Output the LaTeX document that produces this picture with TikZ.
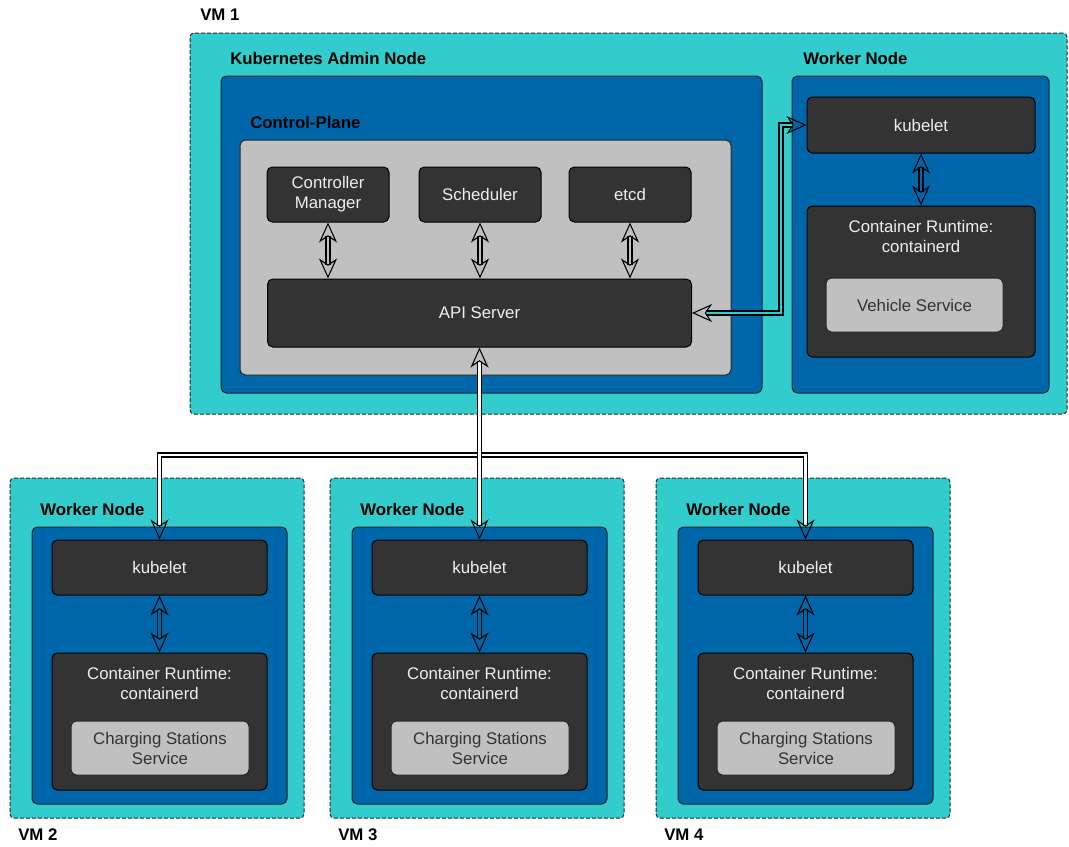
\documentclass[tikz,border=0pt]{standalone}
\usepackage{fontspec}
\setmainfont{Liberation Sans}
\usetikzlibrary{calc,arrows.meta,positioning,decorations.markings}
\definecolor{vmteal}{HTML}{33CCCC}
\definecolor{nodeblue}{HTML}{0066AA}
\definecolor{darkgrey}{HTML}{333333}
\definecolor{lightgrey}{HTML}{C0C0C0}
\definecolor{lighttext}{HTML}{EEEEEE}
\newcommand{\dfont}{\fontsize{12.6}{15}\selectfont}

\begin{document}
\begin{tikzpicture}[x=0.75pt,y=-0.75pt,font=\dfont,>={Stealth[open,length=15pt,width=13.5pt,inset=4.5pt]}]

\tikzset{sz/.style 2 args={minimum width=#1*0.75pt,minimum height=#2*0.75pt,inner sep=0pt},
vmbox/.style={draw=black!85,fill=vmteal,line width=0.75pt,dash pattern=on 3pt off 1.5pt,rounded corners=3pt},
bluebox/.style={draw=black!85,fill=nodeblue,line width=0.75pt,rounded corners=4pt},
greybox/.style={draw=black!85,fill=lightgrey,line width=0.75pt,rounded corners=4pt},
darkbox/.style={draw=black,fill=darkgrey,line width=0.75pt,rounded corners=4pt,text=lighttext,align=center},
svcbox/.style={draw=black!85,fill=lightgrey,line width=0.75pt,rounded corners=4pt,text=darkgrey,align=center},
crtext/.style={text=lighttext,align=center,inner sep=0pt},
lbl/.style={font=\dfont\bfseries,anchor=west,inner sep=0pt},
conn/.style={draw=#1,line width=2.2pt,shorten <=10.2pt,shorten >=10.2pt,
  preaction={draw=black,line width=4.1pt,shorten <=10.2pt,shorten >=10.2pt},
  postaction={draw=none,decorate,decoration={markings,
    mark=at position 0 with {\arrowreversed[black,line width=0.8pt]{>}},
    mark=at position 1 with {\arrow[black,line width=0.8pt]{>}}}}},
conn/.default=white}

\useasboundingbox (0,0) rectangle (1069,846);

% VM 1
\node[vmbox,sz={877}{381}] (vm1) at (628.5,223.5) {};
\node[lbl] (vm1lbl) at (200,15) {VM 1};
\node[lbl] (adminlbl) at (230,58) {Kubernetes Admin Node};
\node[lbl] (wn1lbl) at (803,58) {Worker Node};

% Admin node
\node[bluebox,sz={541}{317}] (admin) at (491.5,234.5) {};
\node[lbl] (cplbl) at (250,122) {Control-Plane};
\node[greybox,sz={491}{235}] (cplane) at (485.5,257.5) {};
\node[darkbox,sz={122}{55}] (cm) at (328,194.5) {Controller\\Manager};
\node[darkbox,sz={122}{55}] (sched) at (480,194.5) {Scheduler};
\node[darkbox,sz={122}{55}] (etcd) at (630,194.5) {etcd};
\node[darkbox,sz={424}{68}] (api) at (479.5,313) {API Server};

% Worker node on VM 1
\node[bluebox,sz={257}{317}] (wn1) at (920.5,234.5) {};
\node[darkbox,sz={228}{56}] (kub1) at (921,125) {kubelet};
\node[darkbox,sz={228}{151}] (cr1) at (921,281.5) {};
\node[crtext] (crt1) at (921,236) {Container Runtime:\\containerd};
\node[svcbox,sz={177}{54}] (svc1) at (914.5,305) {Vehicle Service};

% VM 2-4
\foreach \i/\dx in {2/0,3/320,4/646} {
  \node[vmbox,sz={294}{340}] (vm\i) at ({157+\dx},648) {};
  \node[lbl] (vm\i lbl) at ({18+\dx},835) {VM \i};
  \node[lbl] (wn\i lbl) at ({40+\dx},509) {Worker Node};
  \node[bluebox,sz={255}{277}] (wn\i) at ({159.5+\dx},665.5) {};
  \node[darkbox,sz={215}{55}] (kub\i) at ({159.5+\dx},567.5) {kubelet};
  \node[darkbox,sz={215}{137}] (cr\i) at ({159.5+\dx},721.5) {};
  \node[crtext] (crt\i) at ({159.5+\dx},683) {Container Runtime:\\containerd};
  \node[svcbox,sz={178}{54}] (svc\i) at ({160+\dx},748) {Charging Stations\\Service};
  \draw[conn=nodeblue] (kub\i.south) -- (cr\i.north);
}

% Edges
\foreach \n in {cm,sched,etcd} \draw[conn=lightgrey] (\n.south) -- (\n.south |- api.north);
\draw[conn=nodeblue] (kub1.south) -- (cr1.north);
\draw[conn=vmteal] (api.east) -- ++(89,0) |- (kub1.west);
\coordinate (bus) at (479.5,455);
\draw[conn] (kub2.north) |- (bus) -| (kub4.north);
\draw[conn] (api.south) -- (kub3.north);

\end{tikzpicture}
\end{document}
